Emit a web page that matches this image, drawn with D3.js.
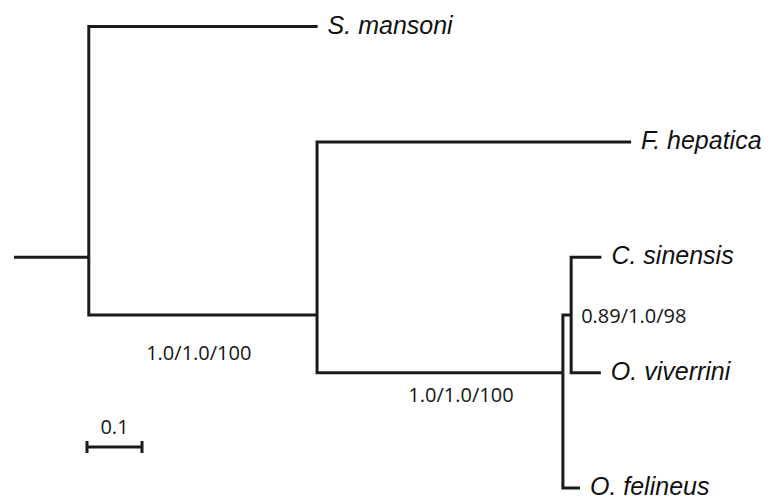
<!DOCTYPE html>
<html>
<head>
<meta charset="utf-8">
<script src="https://cdn.jsdelivr.net/npm/d3@7"></script>
<style>
  html, body { margin: 0; padding: 0; background: #fff; }
  svg { display: block; }
</style>
</head>
<body>
<svg id="chart" width="774" height="501"></svg>
<script>
// ---- data ----
const taxa = ["S. mansoni", "F. hepatica", "C. sinensis", "O. viverrini", "O. felineus"];
const taxonParents = ["n1", "n2", "n4", "n4", "n3"];
const taxonBranchLengths = [0.416, 0.571, 0.055, 0.054, 0.031];
const taxonRows = [0, 1, 2, 3, 4];

const internalNodes = ["n1", "n2", "n3", "n4"];
const internalParents = ["root", "n1", "n2", "n3"];
const internalBranchLengths = [0.136, 0.415, 0.447, 0.015];
const internalRows = [2, 2.5, 3, 2.5];

const supportNodes = ["n2", "n3", "n4"];
const supportValues = ["1.0/1.0/100", "1.0/1.0/100", "0.89/1.0/98"];

const scaleBarValue = 0.1;
const scaleBarLabel = "0.1";

// ---- build tree ----
const rows = [{ id: "root", parent: null, length: 0, row: 2, name: null }];
internalNodes.forEach((id, i) => rows.push({ id, parent: internalParents[i], length: internalBranchLengths[i], row: internalRows[i], name: null }));
taxa.forEach((t, i) => rows.push({ id: "t" + i, parent: taxonParents[i], length: taxonBranchLengths[i], row: taxonRows[i], name: t }));

const root = d3.stratify().id(d => d.id).parentId(d => d.parent)(rows);
root.each(n => { n.dist = n.parent ? n.parent.dist + n.data.length : 0; });

const pxPerUnit = 550;
const maxDist = d3.max(root.descendants(), d => d.dist);
const x = d3.scaleLinear().domain([0, maxDist]).range([14, 14 + maxDist * pxPerUnit]);
const y = d3.scaleLinear().domain([0, 4]).range([26.5, 488]);

const svg = d3.select("#chart");
const ink = "#1b1b1b";
const g = svg.append("g");

// root stem: from root to first internal node
const n1 = root.children[0];
g.append("path")
  .attr("d", `M${x(0)},${y(n1.data.row)}H${x(n1.dist)}`)
  .attr("fill", "none").attr("stroke", ink).attr("stroke-width", 3);

// elbow links
g.selectAll("path.link")
  .data(root.links().filter(l => l.source.data.id !== "root"))
  .join("path")
  .attr("class", "link")
  .attr("fill", "none")
  .attr("stroke", ink)
  .attr("stroke-width", 3)
  .attr("stroke-linejoin", "miter")
  .attr("d", l => `M${x(l.source.dist)},${y(l.source.data.row)}V${y(l.target.data.row)}H${x(l.target.dist)}`);

// taxon labels
g.selectAll("text.taxon")
  .data(root.leaves())
  .join("text")
  .attr("class", "taxon")
  .attr("x", d => x(d.dist) + 10)
  .attr("y", d => y(d.data.row) + 7)
  .attr("font-family", "'Liberation Sans', Arial, sans-serif")
  .attr("font-style", "italic")
  .attr("font-size", 25)
  .attr("fill", "#111")
  .text(d => d.data.name);

// support labels
const byId = new Map(root.descendants().map(d => [d.data.id, d]));
const supportPlacement = {
  n2: (n) => ({ x: x(n.parent.dist) + 110, y: y(n.data.row) + 45, anchor: "middle" }),
  n3: (n) => ({ x: (x(n.parent.dist) + x(n.dist)) / 2 + 21, y: y(n.data.row) + 29, anchor: "middle" }),
  n4: (n) => ({ x: x(n.dist) + 10, y: y(n.data.row) + 8, anchor: "start" })
};
supportNodes.forEach((id, i) => {
  const n = byId.get(id);
  const p = supportPlacement[id](n);
  g.append("text")
    .attr("x", p.x).attr("y", p.y)
    .attr("text-anchor", p.anchor)
    .attr("font-family", "'Open Sans', sans-serif")
    .attr("font-size", 20)
    .attr("fill", "#151515")
    .text(supportValues[i]);
});

// scale bar
const sbX = 87, sbY = 447;
const sbW = x(scaleBarValue) - x(0);
const sb = g.append("g").attr("stroke", ink).attr("stroke-width", 3);
sb.append("line").attr("x1", sbX).attr("x2", sbX + sbW).attr("y1", sbY).attr("y2", sbY);
sb.append("line").attr("x1", sbX).attr("x2", sbX).attr("y1", sbY - 6).attr("y2", sbY + 6);
sb.append("line").attr("x1", sbX + sbW).attr("x2", sbX + sbW).attr("y1", sbY - 6).attr("y2", sbY + 6);
g.append("text")
  .attr("x", sbX + sbW / 2).attr("y", sbY - 13)
  .attr("text-anchor", "middle")
  .attr("font-family", "'Open Sans', sans-serif")
  .attr("font-size", 20)
  .attr("fill", "#151515")
  .text(scaleBarLabel);
</script>
</body>
</html>
